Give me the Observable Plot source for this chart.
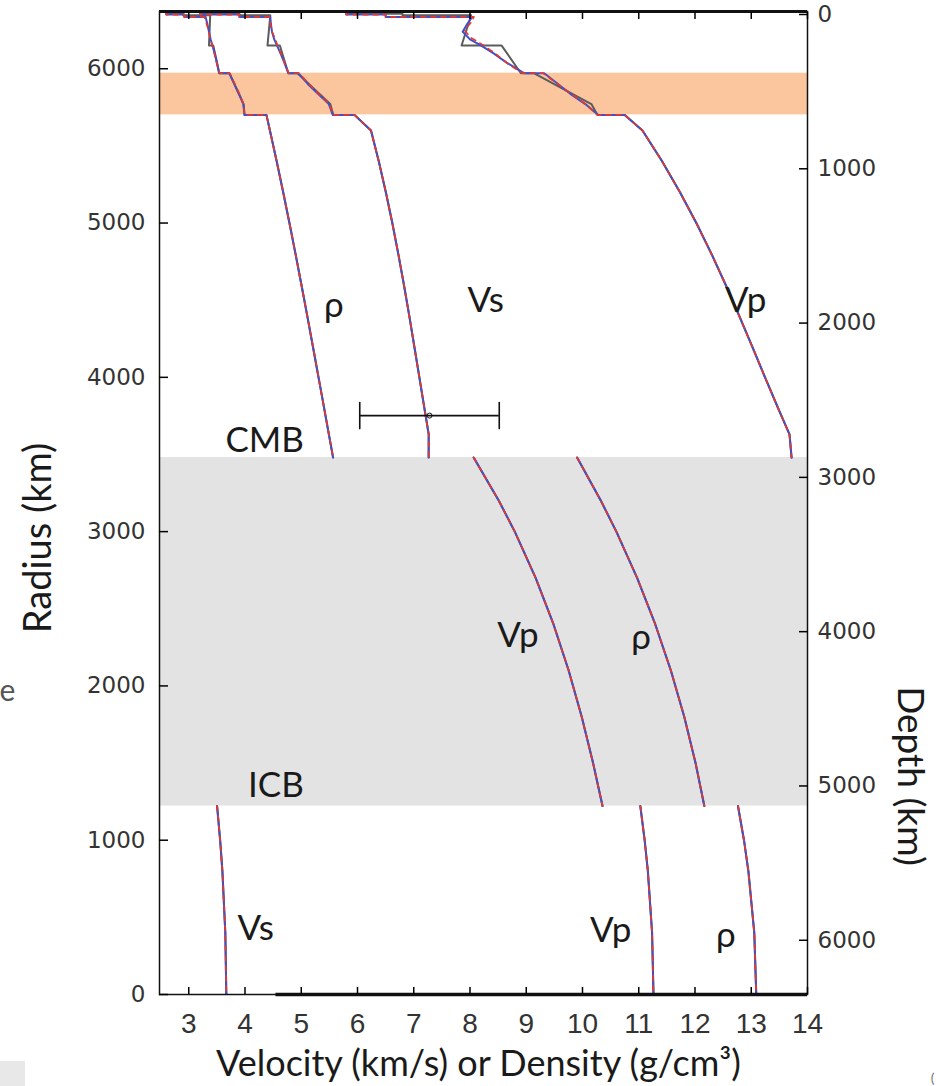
<!DOCTYPE html>
<html><head><meta charset="utf-8">
<script src="https://cdn.jsdelivr.net/npm/d3@7"></script>
<script src="https://cdn.jsdelivr.net/npm/@observablehq/plot@0.6"></script>
<style>
html,body{margin:0;padding:0;background:#fff;}
#chart{position:relative;width:936px;height:1086px;overflow:hidden;}
#corner{position:absolute;left:0;top:1061px;width:25px;height:25px;background:#e8e8e8;}
</style></head><body><div id="chart"><div id="corner"></div></div>
<script>
// ---------- axis ticks ----------
const xTicks = [3,4,5,6,7,8,9,10,11,12,13,14];
const radiusTicks = [0,1000,2000,3000,4000,5000,6000];
const depthTicks = [0,1000,2000,3000,4000,5000,6000];
const earthRadius = 6371;

// ---------- shaded layers (radius, km) ----------
const transitionZone = [{top: 5971, bottom: 5701}];
const outerCore = [{top: 3480, bottom: 1221.5}];

// ---------- shared lower mantle (all models) ----------
const rLM   = [5701, 5600, 5400, 5200, 5000, 4800, 4600, 4400, 4200, 4000, 3800, 3630, 3480];
const vpLM  = [10.751, 11.066, 11.415, 11.733, 12.024, 12.293, 12.545, 12.784, 13.016, 13.245, 13.477, 13.680, 13.717];
const vsLM  = [5.945, 6.240, 6.378, 6.504, 6.619, 6.725, 6.825, 6.920, 7.010, 7.100, 7.189, 7.266, 7.265];
const rhoLM = [4.381, 4.443, 4.563, 4.679, 4.790, 4.898, 5.003, 5.106, 5.207, 5.307, 5.407, 5.491, 5.566];

// ---------- outer core ----------
const rOC   = [3480, 3200, 3000, 2700, 2400, 2100, 1800, 1500, 1221.5];
const vpOC  = [8.065, 8.513, 8.796, 9.167, 9.484, 9.754, 9.986, 10.188, 10.356];
const rhoOC = [9.904, 10.327, 10.602, 10.971, 11.293, 11.571, 11.809, 12.010, 12.166];

// ---------- inner core ----------
const rIC   = [1221.5, 1000, 800, 400, 0];
const vpIC  = [11.028, 11.105, 11.162, 11.237, 11.262];
const vsIC  = [3.504, 3.558, 3.598, 3.650, 3.668];
const rhoIC = [12.764, 12.871, 12.949, 13.054, 13.089];

// ---------- upper mantle: gray model ----------
const rUMgray   = [6371, 6368, 6368, 6356, 6356, 6346.6, 6346.6, 6151, 6151, 5971, 5971, 5771, 5701];
const vpUMgray  = [1.45, 1.45, 5.8, 5.8, 6.8, 6.8, 8.02, 7.85, 8.56, 8.905, 9.134, 10.158, 10.266];
const vsUMgray  = [0, 0, 3.2, 3.2, 3.9, 3.9, 4.45, 4.40, 4.62, 4.770, 4.932, 5.516, 5.570];
const rhoUMgray = [1.02, 1.02, 2.6, 2.6, 2.9, 2.9, 3.381, 3.360, 3.436, 3.543, 3.724, 3.976, 3.992];

// ---------- upper mantle: blue model ----------
const rUMblue   = [6371, 6351, 6351, 6336, 6336, 6290, 6240, 6190, 6150, 6100, 6040, 5971, 5971, 5900, 5830, 5771, 5701];
const vpUMblue  = [5.8, 5.8, 6.5, 6.5, 8.04, 7.95, 7.87, 8.0, 8.2, 8.42, 8.65, 8.96, 9.32, 9.57, 9.81, 10.05, 10.28];
const vsUMblue  = [3.2, 3.2, 3.9, 3.9, 4.45, 4.46, 4.48, 4.52, 4.57, 4.63, 4.70, 4.77, 4.95, 5.12, 5.32, 5.49, 5.56];
const rhoUMblue = [2.6, 2.6, 2.92, 2.92, 3.30, 3.33, 3.36, 3.39, 3.42, 3.46, 3.50, 3.54, 3.72, 3.81, 3.90, 3.97, 3.99];

// ---------- upper mantle: red model ----------
const rUMred   = [6371, 6351, 6351, 6336, 6336, 6300, 6250, 6200, 6150, 6090, 6030, 5971, 5971, 5900, 5830, 5771, 5701];
const vpUMred  = [5.8, 5.8, 6.5, 6.5, 8.07, 8.02, 7.90, 8.02, 8.25, 8.48, 8.68, 8.94, 9.30, 9.56, 9.83, 10.06, 10.26];
const vsUMred  = [3.2, 3.2, 3.9, 3.9, 4.43, 4.45, 4.47, 4.53, 4.58, 4.65, 4.71, 4.78, 4.96, 5.14, 5.33, 5.50, 5.57];
const rhoUMred = [2.6, 2.6, 2.92, 2.92, 3.28, 3.31, 3.35, 3.38, 3.42, 3.46, 3.50, 3.55, 3.73, 3.82, 3.91, 3.97, 3.99];

// ---------- error bar ----------
const errRadius = [3752];
const errCenter = [7.28];
const errLow    = [6.04];
const errHigh   = [8.52];

// ---------- labels ----------
const labelText = ["ρ", "Vs", "Vp", "Vp", "ρ", "Vs", "Vp", "ρ", "CMB", "ICB"];
const labelX    = [5.58, 8.28, 12.90, 8.85, 11.04, 4.19, 10.50, 12.55, 4.35, 4.55];
const labelR    = [4466, 4498, 4498, 2327, 2314, 428, 415, 382, 3591, 1355];

const bottomThick = [{from: 4.55, to: 14}];

// ---------- build rows ----------
const rows = [];
function add(model, seg, rs, vals) { rs.forEach((r, i) => rows.push({model, seg, r, v: vals[i]})); }
const um = {
  gray: [rUMgray, vpUMgray, vsUMgray, rhoUMgray],
  blue: [rUMblue, vpUMblue, vsUMblue, rhoUMblue],
  red:  [rUMred,  vpUMred,  vsUMred,  rhoUMred]
};
for (const m of ["gray", "blue", "red"]) {
  const [r, vp, vs, rho] = um[m];
  add(m, "vp-mantle", r.concat(rLM), vp.concat(vpLM));
  add(m, "vs-mantle", r.concat(rLM), vs.concat(vsLM));
  add(m, "rho-mantle", r.concat(rLM), rho.concat(rhoLM));
  add(m, "vp-oc", rOC, vpOC);
  add(m, "rho-oc", rOC, rhoOC);
  add(m, "vp-ic", rIC, vpIC);
  add(m, "vs-ic", rIC, vsIC);
  add(m, "rho-ic", rIC, rhoIC);
}
const labels = labelText.map((t, i) => ({t, x: labelX[i], r: labelR[i]}));
const err = errRadius.map((r, i) => ({r, c: errCenter[i], lo: errLow[i], hi: errHigh[i]}));

const capShape = {draw(context, l) { context.moveTo(0, 0); context.lineTo(0, -l); }};

const chart = Plot.plot({
  width: 936, height: 1086,
  marginLeft: 159, marginRight: 129, marginTop: 11, marginBottom: 92,
  style: {background: "transparent", fontFamily: "Lato, sans-serif", overflow: "visible"},
  x: {domain: [2.48, 14]},
  y: {domain: [0, earthRadius]},
  marks: [
    Plot.rectY(transitionZone, {y1: "bottom", y2: "top", fill: "#fbc69d"}),
    Plot.rectY(outerCore, {y1: "bottom", y2: "top", fill: "#e3e3e3"}),
    Plot.line(rows.filter(d => d.model === "gray"), {x: "v", y: "r", z: "seg", stroke: "#5c5c5c", strokeWidth: 2, clip: true}),
    Plot.line(rows.filter(d => d.model === "blue"), {x: "v", y: "r", z: "seg", stroke: "#3f50cc", strokeWidth: 2, clip: true}),
    Plot.line(rows.filter(d => d.model === "red"), {x: "v", y: "r", z: "seg", stroke: "#e8372c", strokeWidth: 1.6, strokeDasharray: "5,5", clip: true}),
    Plot.ruleY(err, {y: "r", x1: "lo", x2: "hi", stroke: "#111", strokeWidth: 1.6}),
    Plot.vector(err, {x: "lo", y: "r", length: 26, anchor: "middle", shape: capShape, stroke: "#111", strokeWidth: 1.6}),
    Plot.vector(err, {x: "hi", y: "r", length: 26, anchor: "middle", shape: capShape, stroke: "#111", strokeWidth: 1.6}),
    Plot.dot(err, {x: "c", y: "r", r: 2.5, stroke: "#111", strokeWidth: 1, fill: "none"}),
    Plot.text(labels, {x: "x", y: "r", text: "t", fontSize: 35, fontFamily: "Lato, 'Noto Sans', sans-serif", fill: "#1a1a1a"}),
    Plot.frame({stroke: "#111", strokeWidth: 1.5}),
    Plot.ruleY([earthRadius], {stroke: "#111", strokeWidth: 3}),
    Plot.ruleY(bottomThick, {y: () => 0, x1: "from", x2: "to", stroke: "#111", strokeWidth: 3.5}),
    Plot.axisX({ticks: xTicks, anchor: "bottom", tickSize: -7, tickPadding: 26, strokeWidth: 1.5, fontFamily: "'Liberation Sans', Arial, sans-serif", fontSize: 28, fill: "#333", label: null}),
    Plot.axisX({ticks: xTicks, anchor: "top", tickSize: -7, strokeWidth: 1.5, tickFormat: () => "", label: null}),
    Plot.axisY({ticks: radiusTicks, anchor: "left", tickSize: -9, tickPadding: 23, strokeWidth: 1.5, tickFormat: d => String(d), fontFamily: "'DejaVu Sans', sans-serif", fontSize: 23, fill: "#333", label: null}),
    Plot.axisY({ticks: depthTicks.map(d => earthRadius - d), anchor: "right", tickSize: -9, tickPadding: 19, strokeWidth: 1.5, tickFormat: r => String(Math.round(earthRadius - r)), fontFamily: "'DejaVu Sans', sans-serif", fontSize: 23, fill: "#333", label: null, dy: 3}),
    Plot.text(["Velocity (km/s) or Density (g/cm³)"], {frameAnchor: "bottom", text: d => d, textAnchor: "middle", lineAnchor: "middle", dx: -5, dy: 70, fontSize: 36, fontFamily: "Lato, sans-serif", fill: "#1a1a1a"}),
    Plot.text(["Radius (km)"], {frameAnchor: "left", text: d => d, textAnchor: "middle", lineAnchor: "middle", dx: -121, dy: 35, rotate: -90, fontSize: 38, fontFamily: "Lato, sans-serif", fill: "#1a1a1a"}),
    Plot.text(["Depth (km)"], {frameAnchor: "right", text: d => d, textAnchor: "middle", lineAnchor: "middle", dx: 102, dy: 273, rotate: 90, fontSize: 37, fontFamily: "Lato, sans-serif", fill: "#1a1a1a"}),
    Plot.text(["e"], {frameAnchor: "left", text: d => d, textAnchor: "middle", lineAnchor: "middle", dx: -152, dy: 188, fontSize: 30, fontFamily: "Lato, sans-serif", fill: "#555"}),
    Plot.text(["("], {frameAnchor: "bottom-right", text: d => d, textAnchor: "middle", lineAnchor: "middle", dx: 125, dy: 84, fontSize: 14, fontFamily: "Lato, sans-serif", fill: "#777"})
  ]
});
document.getElementById("chart").appendChild(chart);
</script></body></html>
